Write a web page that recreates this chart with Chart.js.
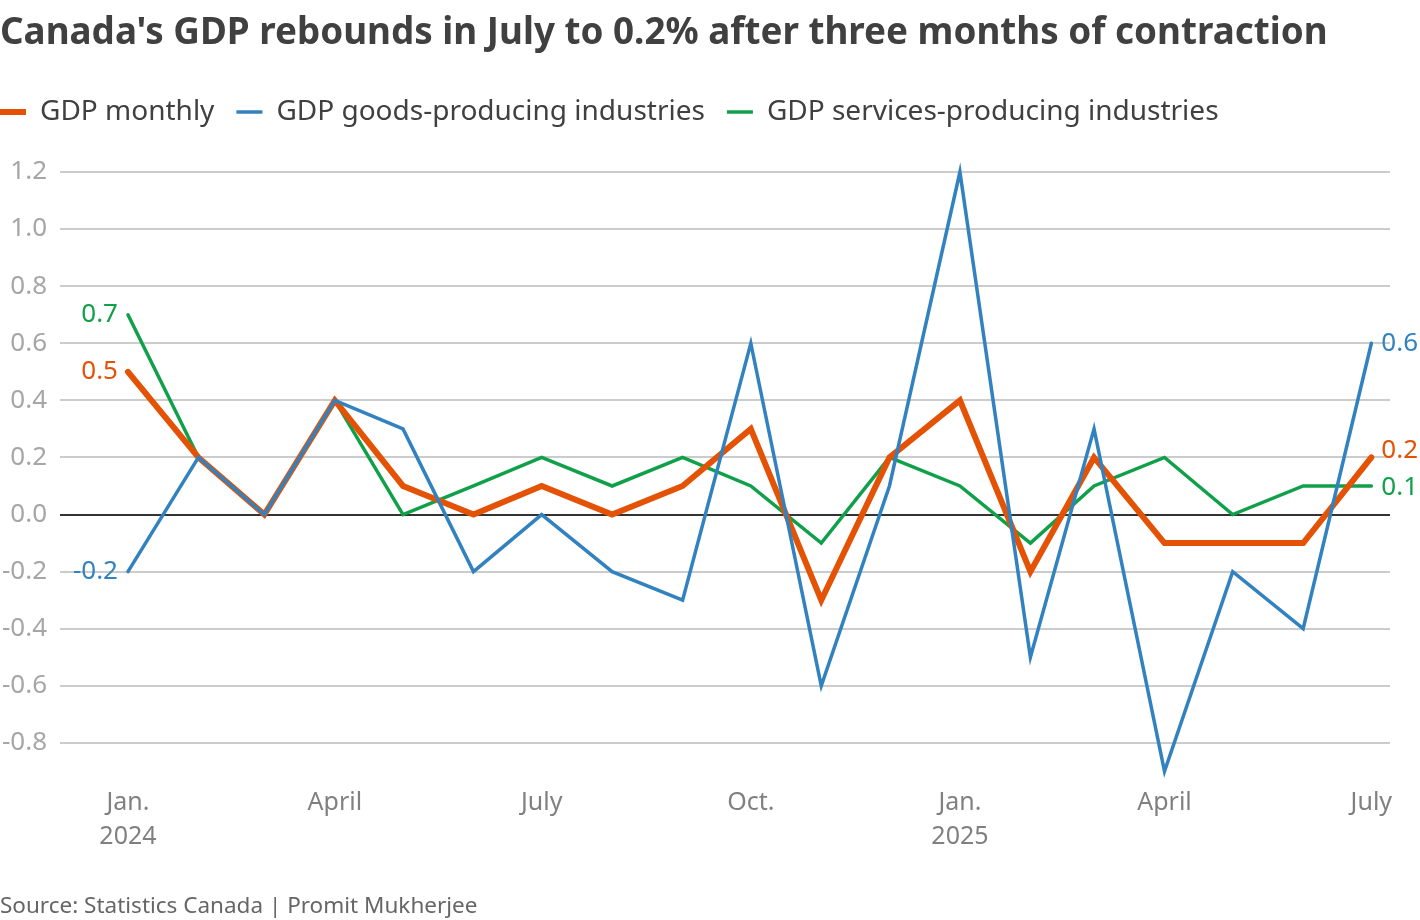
<!DOCTYPE html>
<html lang="en">
<head>
    <meta charset="UTF-8">
    <title>Canada's GDP rebounds in July</title>
    <script src="https://cdn.jsdelivr.net/npm/chart.js"></script>
    <style>
        body {
            margin: 0;
            background: #ffffff;
            font-family: "Noto Sans", sans-serif;
        }
        .wrap {
            position: relative;
            width: 1420px;
            height: 920px;
        }
        h1 {
            position: absolute;
            left: 0;
            top: 5px;
            margin: 0;
            font-size: 36.8px;
            font-weight: 700;
            color: #404040;
            white-space: nowrap;
        }
        .source {
            position: absolute;
            left: 0;
            top: 889px;
            font-size: 22.5px;
            color: #666666;
        }
        canvas {
            position: absolute;
            left: 0;
            top: 0;
        }
    </style>
</head>
<body>
<div class="wrap">
    <canvas id="gdpChart" width="1420" height="920"></canvas>
    <h1>Canada's GDP rebounds in July to 0.2% after three months of contraction</h1>
    <div class="source">Source: Statistics Canada | Promit Mukherjee</div>
</div>

<script>
    // months Jan. 2024 .. July 2025 (year, month 1-12)
    const months = [[2024, 1], [2024, 2], [2024, 3], [2024, 4], [2024, 5], [2024, 6],
        [2024, 7], [2024, 8], [2024, 9], [2024, 10], [2024, 11], [2024, 12],
        [2025, 1], [2025, 2], [2025, 3], [2025, 4], [2025, 5], [2025, 6], [2025, 7]];

    const gdpMonthly = [0.5, 0.2, 0.0, 0.4, 0.1, 0.0, 0.1, 0.0, 0.1, 0.3, -0.3, 0.2,
        0.4, -0.2, 0.2, -0.1, -0.1, -0.1, 0.2];
    const gdpGoods = [-0.2, 0.2, 0.0, 0.4, 0.3, -0.2, 0.0, -0.2, -0.3, 0.6, -0.6, 0.1,
        1.2, -0.5, 0.3, -0.9, -0.2, -0.4, 0.6];
    const gdpServices = [0.7, 0.2, 0.0, 0.4, 0.0, 0.1, 0.2, 0.1, 0.2, 0.1, -0.1, 0.2,
        0.1, -0.1, 0.1, 0.2, 0.0, 0.1, 0.1];

    const xTickMonths = [[2024, 1], [2024, 4], [2024, 7], [2024, 10], [2025, 1], [2025, 4], [2025, 7]];
    const xTickLabels = [['Jan.', '2024'], 'April', 'July', 'Oct.', ['Jan.', '2025'], 'April', 'July'];
    const yTicks = [1.2, 1.0, 0.8, 0.6, 0.4, 0.2, 0.0, -0.2, -0.4, -0.6, -0.8];

    const ORANGE = '#e35205';
    const BLUE = '#3282c0';
    const GREEN = '#10a04a';

    // x axis is in days since 1 Jan 2024 (time-proportional spacing)
    const DAY = 86400000;
    const T0 = Date.UTC(2024, 0, 1);
    function dayOf(ym) {
        return (Date.UTC(ym[0], ym[1] - 1, 1) - T0) / DAY;
    }
    const xDays = months.map(dayOf);
    const xTickDays = xTickMonths.map(dayOf);

    function toPoints(values) {
        return values.map((v, i) => ({x: xDays[i], y: v}));
    }

    // value labels at the start / end of each line (dy nudges to avoid overlap)
    const startLabels = [
        {ds: 0, dy: 0},
        {ds: 1, dy: 0},
        {ds: 2, dy: 0}
    ];
    const endLabels = [
        {ds: 0, dy: -7},
        {ds: 1, dy: 0},
        {ds: 2, dy: 2}
    ];

    const valueLabels = {
        id: 'valueLabels',
        afterDatasetsDraw(chart) {
            const ctx = chart.ctx;
            ctx.save();
            ctx.font = '26px "Noto Sans"';
            ctx.textBaseline = 'middle';
            startLabels.forEach(l => {
                const ds = chart.data.datasets[l.ds];
                const pt = chart.getDatasetMeta(l.ds).data[0];
                ctx.fillStyle = ds.borderColor;
                ctx.textAlign = 'right';
                ctx.fillText(ds.data[0].y.toFixed(1), pt.x - 10, pt.y + l.dy);
            });
            endLabels.forEach(l => {
                const ds = chart.data.datasets[l.ds];
                const meta = chart.getDatasetMeta(l.ds);
                const n = ds.data.length - 1;
                const pt = meta.data[n];
                ctx.fillStyle = ds.borderColor;
                ctx.textAlign = 'left';
                ctx.fillText(ds.data[n].y.toFixed(1), pt.x + 10, pt.y + l.dy);
            });
            ctx.restore();
        }
    };

    // extra room under the legend, and pull it to the left edge
    const legendSpace = {
        id: 'legendSpace',
        beforeInit(chart) {
            const fit = chart.legend.fit;
            chart.legend.fit = function () {
                fit.bind(chart.legend)();
                this.height += 36;
            };
        },
        afterLayout(chart) {
            chart.legend.left = -22;
        }
    };

    const ctx = document.getElementById('gdpChart').getContext('2d');
    const gdpChart = new Chart(ctx, {
        type: 'line',
        data: {
            datasets: [{
                label: 'GDP monthly',
                data: toPoints(gdpMonthly),
                borderColor: ORANGE,
                backgroundColor: ORANGE,
                borderWidth: 6,
                order: 1
            }, {
                label: 'GDP goods-producing industries',
                data: toPoints(gdpGoods),
                borderColor: BLUE,
                backgroundColor: BLUE,
                borderWidth: 3.5,
                order: 0
            }, {
                label: 'GDP services-producing industries',
                data: toPoints(gdpServices),
                borderColor: GREEN,
                backgroundColor: GREEN,
                borderWidth: 3.5,
                order: 2
            }]
        },
        options: {
            responsive: false,
            animation: false,
            clip: false,
            elements: {
                point: {radius: 0},
                line: {tension: 0, borderCapStyle: 'round'}
            },
            layout: {
                padding: {top: 76, right: 30, bottom: 60, left: 0}
            },
            plugins: {
                legend: {
                    position: 'top',
                    align: 'start',
                    labels: {
                        usePointStyle: true,
                        pointStyle: 'line',
                        pointStyleWidth: 26,
                        padding: 22,
                        color: '#404040',
                        font: {family: '"Noto Sans"', size: 28},
                        sort: (a, b) => a.datasetIndex - b.datasetIndex
                    }
                },
                tooltip: {enabled: false}
            },
            scales: {
                x: {
                    type: 'linear',
                    min: -29.9,
                    max: 555.2,
                    grid: {display: false},
                    border: {display: false},
                    afterBuildTicks: scale => {
                        scale.ticks = xTickDays.map(v => ({value: v}));
                    },
                    afterFit: scale => {
                        scale.height = 80;
                    },
                    ticks: {
                        padding: -2,
                        maxRotation: 0,
                        autoSkip: false,
                        color: '#808080',
                        font: {family: '"Noto Sans"', size: 25, lineHeight: 1.36},
                        callback: value => xTickLabels[xTickDays.indexOf(value)]
                    }
                },
                y: {
                    min: -0.93,
                    max: 1.2,
                    border: {display: false},
                    grid: {
                        drawTicks: false,
                        lineWidth: 2,
                        color: c => c.tick.value === 0 ? '#333333' : '#cccccc'
                    },
                    afterBuildTicks: scale => {
                        scale.ticks = yTicks.map(v => ({value: v}));
                    },
                    afterFit: scale => {
                        scale.width = 60;
                    },
                    ticks: {
                        padding: 13,
                        color: '#a6a6a6',
                        font: {family: '"Noto Sans"', size: 26},
                        callback: value => value.toFixed(1)
                    }
                }
            }
        },
        plugins: [legendSpace, valueLabels]
    });
</script>
</body>
</html>
